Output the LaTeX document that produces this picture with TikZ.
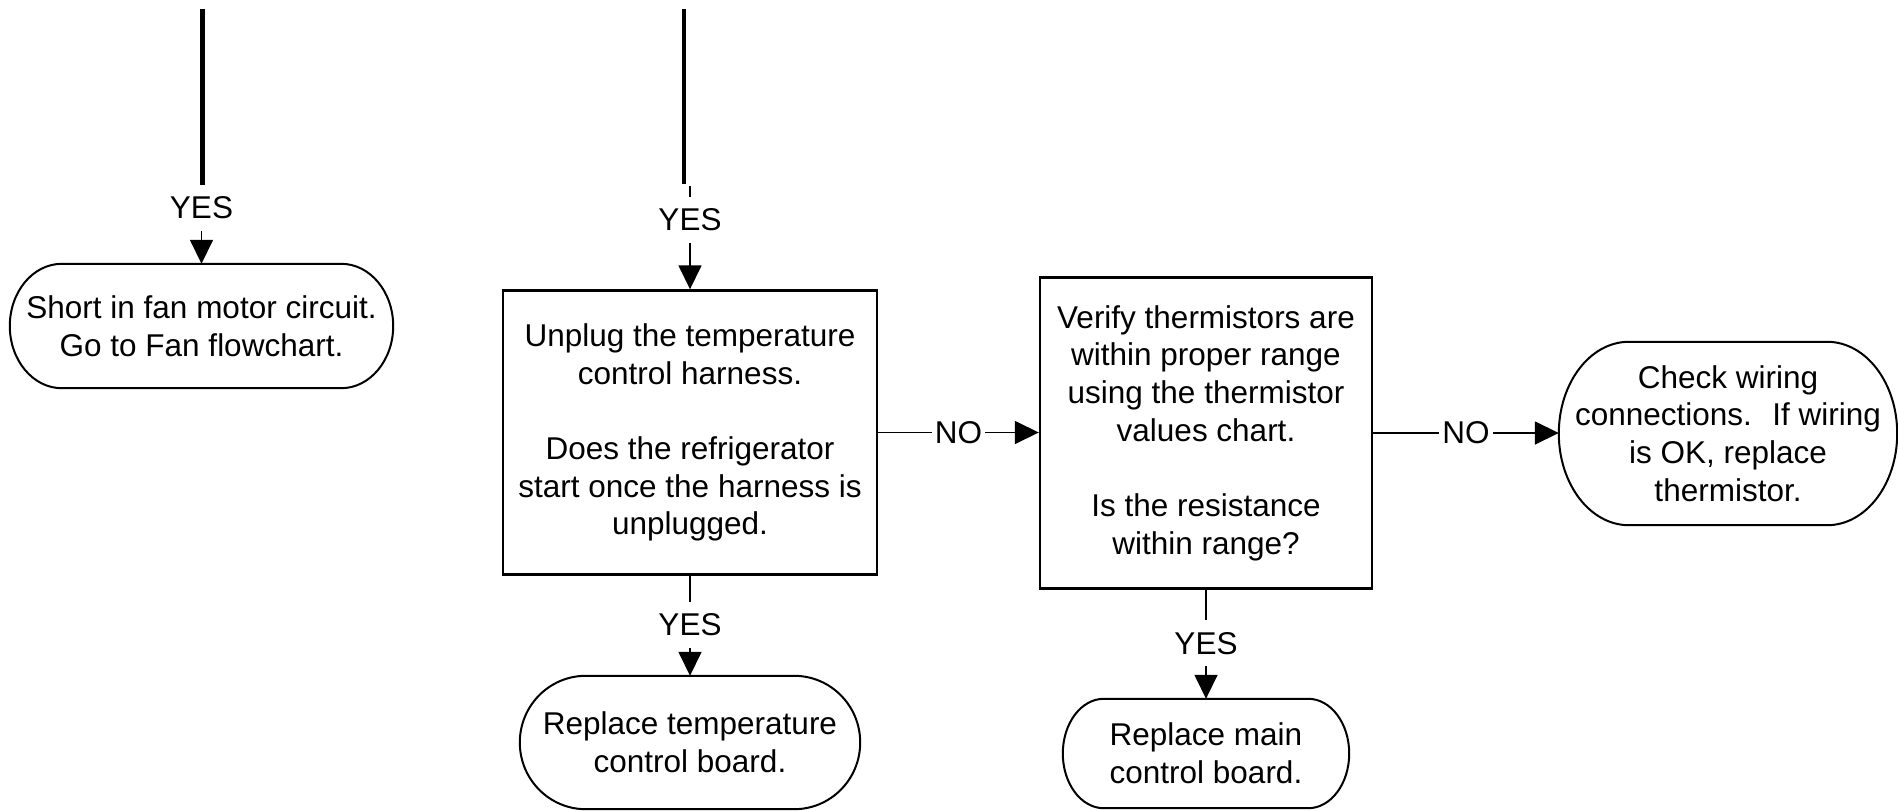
\documentclass[tikz,border=0pt]{standalone}
\usepackage{fontspec}
\setmainfont{Liberation Sans}
\usetikzlibrary{arrows.meta,calc}

\tikzset{
  flowtext/.style={font=\fontsize{31.5}{37.7}\selectfont, align=center, inner sep=0pt},
  procbox/.style={flowtext, draw, line width=2.4pt},
  termbox/.style={flowtext},
  termline/.style={line width=2pt},
  conn/.style={line width=1.6pt, -{Triangle[length=24pt,width=23pt]}},
  feedline/.style={line width=4.5pt},
  lbl/.style={font=\fontsize{31.5}{37.7}\selectfont, fill=white, inner xsep=3pt, inner ysep=12pt},
}

% terminator outline: flat top and bottom, half-elliptic ends of horizontal radius #2
\newcommand\termpath[2]{%
  \draw[termline] let \p1=(#1.north west), \p2=(#1.south east), \n1={0.5*(\y1-\y2)} in
    (\x1+#2,\y1) -- (\x2-#2,\y1)
    arc[start angle=90, end angle=-90, x radius=#2, y radius=\n1]
    -- (\x1+#2,\y2)
    arc[start angle=270, end angle=90, x radius=#2, y radius=\n1] -- cycle;}

\begin{document}
\begin{tikzpicture}[x=1pt,y=-1pt]
\useasboundingbox (0,0) rectangle (1898,811);

% terminators
\node[termbox, minimum width=383pt, minimum height=124pt] (t1) at (201.5,326)
  {Short in fan motor circuit.\\Go to Fan flowchart.};
\node[termbox, minimum width=340pt, minimum height=133pt] (t2) at (690,742.5)
  {Replace temperature\\control board.};
\node[termbox, minimum width=286pt, minimum height=109pt] (t3) at (1206,753.5)
  {Replace main\\control board.};
\node[termbox, minimum width=338pt, minimum height=183pt] (t4) at (1728,433.5)
  {Check wiring\\connections.~ If wiring\\is OK, replace\\thermistor.};

\termpath{t1}{52pt}
\termpath{t2}{66pt}
\termpath{t3}{41pt}
\termpath{t4}{70pt}

% process boxes
\node[procbox, minimum width=374pt, minimum height=284pt] (r1) at (690,432.5)
  {Unplug the temperature\\control harness.\\[37.7pt]Does the refrigerator\\start once the harness is\\unplugged.};
\node[procbox, minimum width=332pt, minimum height=311pt] (r2) at (1206,433)
  {Verify thermistors are\\within proper range\\using the thermistor\\values chart.\\[37.7pt]Is the resistance\\within range?};

% incoming flow lines from above
\coordinate (feedL) at (202.5,9);
\coordinate (feedLend) at (202.5,185);
\coordinate (yesL) at (201.5,185);
\coordinate (feedM) at (684,9);
\coordinate (feedMend) at (684,184);
\coordinate (yesM) at (690,186);

\draw[feedline] (feedL) -- (feedLend);
\draw[feedline] (feedM) -- (feedMend);

% connectors
\draw[conn] (yesL) -- node[lbl, pos=0.29] {YES} (t1.north);
\draw[conn] (yesM) -- node[lbl, pos=0.33] {YES} (r1.north);
\draw[conn] (r1.south) -- node[lbl, pos=0.49] {YES} (t2.north);
\draw[conn] (r1.east) -- node[lbl] {NO} (r1.east -| r2.west);
\draw[conn] (r2.south) -- node[lbl, pos=0.49] {YES} (t3.north);
\draw[conn] (r2.east) -- node[lbl] {NO} (r2.east -| t4.west);
\end{tikzpicture}
\end{document}
